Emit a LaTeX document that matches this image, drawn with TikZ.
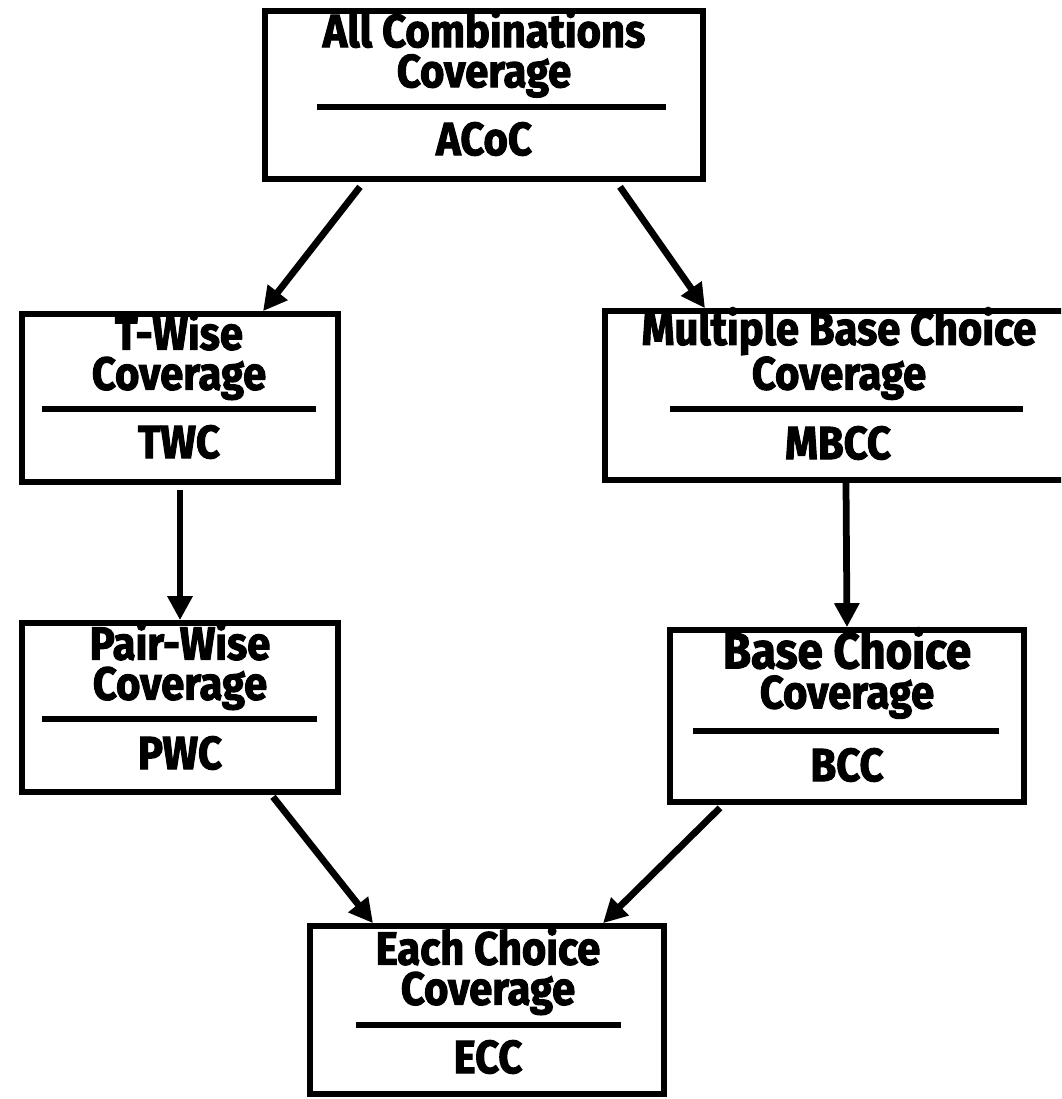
\documentclass[tikz,border=0pt]{standalone}
\usepackage{fontspec}
\setmainfont{Fira Sans}[FakeStretch=0.9, BoldFeatures={FakeBold=2.2}]
\usetikzlibrary{arrows.meta, calc}

\begin{document}
\begin{tikzpicture}[x=0.025cm, y=-0.025cm,
        box/.style={draw, rectangle, line width=4pt, inner sep=0pt},
        title/.style={align=center, inner sep=0pt,
            font=\bfseries\fontsize{33}{28.5}\selectfont},
        abbr/.style={inner sep=0pt, font=\bfseries\fontsize{33}{28.5}\selectfont},
        sepline/.style={line width=4pt},
        arr/.style={line width=4.8pt, -{Triangle[length=0.6cm, width=0.6cm]}}]
        \clip (0,0) rectangle (1061,1099);
        \fill[white] (0,0) rectangle (1061,1099);

        % boxes
        \node[box, minimum width=10.95cm, minimum height=4.2cm] (acoc) at (484,95) {};
        \node[box, minimum width=7.9cm, minimum height=4.2cm] (twc) at (180,398) {};
        \node[box, minimum width=12.05cm, minimum height=4.225cm] (mbcc) at (846,395.5) {};
        \node[box, minimum width=7.9cm, minimum height=4.225cm] (pwc) at (180,707.5) {};
        \node[box, minimum width=8.85cm, minimum height=4.3cm] (bcc) at (847,716) {};
        \node[box, minimum width=8.85cm, minimum height=4.2cm] (ecc) at (487,1010) {};

        % titles and short names
        \node[title] (acoc-t) at (484,53.5) {All Combinations\\Coverage};
        \node[abbr] (acoc-a) at (484,139) {ACoC};
        \node[title] (twc-t) at (179,356) {T-Wise\\Coverage};
        \node[abbr] (twc-a) at (179,442) {TWC};
        \node[title] (mbcc-t) at (839,353.5) {Multiple Base Choice\\Coverage};
        \node[abbr] (mbcc-a) at (838,443) {MBCC};
        \node[title] (pwc-t) at (180,666) {Pair-Wise\\Coverage};
        \node[abbr] (pwc-a) at (180,753) {PWC};
        \node[title] (bcc-t) at (847,673) {{\fontsize{36}{28.5}\selectfont Base Choice}\\Coverage};
        \node[abbr] (bcc-a) at (847,765) {BCC};
        \node[title] (ecc-t) at (488,971) {Each Choice\\Coverage};
        \node[abbr] (ecc-a) at (488,1057) {ECC};

        \draw[sepline] (317,107) -- (666,107);
        \draw[sepline] (42,409) -- (316,409);
        \draw[sepline] (670,409) -- (1023,409);
        \draw[sepline] (42,719) -- (317,719);
        \draw[sepline] (693,731) -- (999,731);
        \draw[sepline] (356,1025) -- (621,1025);

        \draw[arr] ($(acoc.south)+(-124,5)$) -- ($(twc.north)+(83,0)$);
        \draw[arr] ($(acoc.south)+(136,5)$) -- ($(mbcc.north)+(-141,0)$);
        \draw[arr] ($(twc.south)+(0,5)$) -- (pwc.north);
        \draw[arr] (mbcc.south) -- (bcc.north);
        \draw[arr] ($(pwc.south)+(93,2)$) -- ($(ecc.north)+(-114,0)$);
        \draw[arr] ($(bcc.south)+(-127,3)$) -- ($(ecc.north)+(116,0)$);
    \end{tikzpicture}
\end{document}
